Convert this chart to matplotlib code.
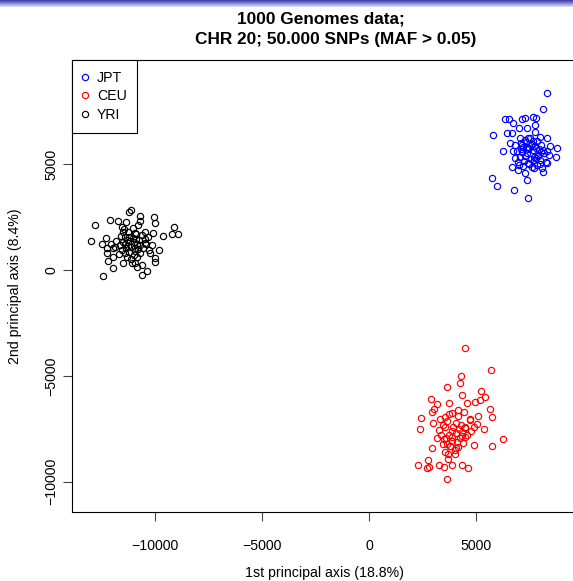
import matplotlib
matplotlib.use("Agg")
import matplotlib.pyplot as plt
import numpy as np
from matplotlib.lines import Line2D

plt.rcParams['font.family'] = ['Liberation Sans', 'DejaVu Sans']

# ---------------- data ----------------
groups = ["JPT", "CEU", "YRI"]
group_colors = ["#0000ff", "#ff0000", "#000000"]

jpt_points = [
    (8332, 8354), (8131, 7585), (6355, 7141), (6556, 7127), (7136, 7127), (7290, 7160),
    (7678, 7236), (7804, 7160), (6743, 6924), (7757, 6844), (5781, 6372), (6435, 6452),
    (6668, 6452), (7024, 6688), (7369, 6688), (7757, 6528), (7056, 6216), (7444, 6216),
    (7991, 6292), (8304, 6216), (6248, 5631), (8799, 5744), (8739, 5319), (6589, 5980),
    (6823, 5900), (5734, 4328), (5968, 3979), (6790, 3776), (7416, 3413), (7397, 4248),
    (8117, 4640), (8304, 5036), (6668, 4876), (6977, 4720), (7290, 4564), (7725, 4800),
    (7100, 6000), (7350, 6050), (7600, 5950), (7850, 6100), (8050, 5900),
    (7200, 5800), (7500, 5750), (7750, 5850), (7950, 5700), (8150, 5650),
    (6900, 5600), (7150, 5550), (7400, 5500), (7650, 5650), (7900, 5450), (8200, 5500),
    (6800, 5300), (7050, 5350), (7300, 5400), (7550, 5250), (7800, 5300), (8000, 5200), (8400, 5450),
    (6950, 5100), (7250, 5150), (7450, 5050), (7700, 5200), (7980, 5000), (8250, 5100),
    (7000, 4950), (7200, 4900), (7480, 5000), (7620, 4850), (7850, 4950), (8100, 4800),
    (6750, 5600), (7100, 5700), (7380, 5800), (7560, 5900), (7820, 5750), (8050, 5550),
    (7300, 6150), (7520, 6250), (7680, 6100), (7900, 5400),
    (7150, 5900), (7420, 5700), (7700, 5350), (8300, 5600), (8450, 5850),
]

ceu_points = [
    (4500, -3696), (5687, -4704), (4299, -4988), (4266, -5348), (3645, -5508), (4346, -5900),
    (5248, -5725), (5407, -5980), (2911, -6103), (3164, -6325), (3753, -6263), (2930, -6688),
    (3051, -6575), (2416, -6986), (2383, -7491), (2977, -7236), (3318, -7047), (3552, -6953),
    (3738, -6797), (4159, -6891), (4594, -6263), (4953, -6216), (5187, -6136), (5654, -6561),
    (5762, -6924), (5374, -7519), (5033, -7269), (4720, -7080), (4486, -7396), (3925, -7396),
    (3537, -7396), (3285, -7552), (3164, -7915), (3865, -7868), (4332, -7835), (4486, -7896),
    (4921, -8260), (6262, -7953), (5762, -8307), (2930, -8416), (3472, -8213), (3785, -8307),
    (4066, -8416), (3537, -8574), (4019, -8685), (3706, -8907), (2771, -8968), (2696, -9360),
    (2790, -9313), (2290, -9204), (3271, -9204), (3519, -9313), (3878, -9204), (4360, -9204),
    (4626, -9331), (3631, -9865),
    (3900, -7600), (4050, -7700), (4200, -7500), (4350, -7650), (4500, -7450), (3750, -7800),
    (3600, -7950), (3900, -8050), (4100, -8100), (4250, -7950), (4400, -8150), (3800, -8300),
    (3650, -8200), (4000, -8500), (4150, -8350), (3500, -8000), (3350, -7800), (4600, -7800),
    (4750, -7600), (4900, -7400), (4700, -7050), (4450, -6700), (4150, -6600), (3900, -6750),
    (3650, -7150), (3450, -7300), (4300, -7300), (4050, -7200), (5100, -6900), (3700, -8700),
]

yri_points = [
    (-13005, 1383), (-12818, 2110), (-12444, -269), (-12103, 2346), (-11715, 2313), (-11201, 2738),
    (-11122, 2832), (-10687, 2563), (-10033, 2487), (-9986, 2204), (-9112, 2015), (-9192, 1685),
    (-8911, 1699), (-9640, 1605), (-9813, 944), (-10000, 552), (-10000, 392), (-10388, -47),
    (-10622, -236), (-11949, 80), (-12183, 425), (-12491, 1213), (-12304, 1496), (-12257, 788),
    (-11949, 1024), (-11481, 316), (-11089, 316), (-10855, 127), (-10622, 236), (-10234, 788),
    (-10313, 1572), (-10468, 1808), (-10935, 1732), (-11402, 1572), (-11559, 2044), (-11481, 1808),
    (-10781, 2124), (-10080, 1732), (-10468, 1260), (-10155, 1180),
    (-11300, 1400), (-11150, 1350), (-11000, 1300), (-10850, 1250), (-10700, 1200), (-11250, 1150),
    (-11100, 1100), (-10950, 1050), (-10800, 1000), (-11400, 1250), (-11050, 1500), (-10900, 1450),
    (-10750, 1400), (-11200, 1550), (-11350, 1050), (-11500, 1300), (-11650, 1200), (-11800, 1350),
    (-11550, 950), (-11700, 750), (-11400, 800), (-11200, 850), (-11000, 700), (-10850, 600),
    (-11100, 500), (-10700, 800), (-10550, 1050), (-10450, 1450), (-10600, 1650), (-10900, 1700),
    (-11250, 1800), (-11600, 1600), (-11850, 1100), (-12050, 1250), (-12250, 1050), (-11950, 600),
    (-11300, 600), (-10950, 350), (-10400, 1250), (-10300, 950), (-11450, 1950), (-11050, 2000),
    (-10700, 2300), (-11350, 2250), (-10950, 900),
]

x_ticks = [-10000, -5000, 0, 5000]
y_ticks = [-10000, -5000, 0, 5000]
title_line1 = "1000 Genomes data;"
title_line2 = "CHR 20; 50.000 SNPs (MAF > 0.05)"
x_label = "1st principal axis (18.8%)"
y_label = "2nd principal axis (8.4%)"

# ---------------- figure ----------------
W, H = 573, 581
fig = plt.figure(figsize=(W / 100, H / 100), dpi=100)

def fx(px):
    return px / W

def fy(py):
    return 1 - py / H

# top gradient bar
bar_ax = fig.add_axes([0, fy(7), 1, 7 / H])
top = np.array([0.22, 0.22, 0.66])
bot = np.array([0.88, 0.88, 0.98])
t = np.linspace(0, 1, 32)[:, None]
grad = (top[None, :] * (1 - t) + bot[None, :] * t)[:, None, :]
bar_ax.imshow(grad, aspect='auto', extent=[0, 1, 0, 1])
bar_ax.axis('off')

# main axes (right border lies beyond the image)
left_px, right_px, top_px, bottom_px = 72, 580, 60, 512
ax = fig.add_axes([fx(left_px), fy(bottom_px), fx(right_px) - fx(left_px), fy(top_px) - fy(bottom_px)])

all_sets = [jpt_points, ceu_points, yri_points]
for pts, col in zip(all_sets, group_colors):
    xs = [p[0] for p in pts]
    ys = [p[1] for p in pts]
    ax.plot(xs, ys, linestyle='none', marker='o', markerfacecolor='none',
            markeredgecolor=col, markersize=4.5, markeredgewidth=0.85)

ax.set_xlim(-13879, 9860)
ax.set_ylim(-11422, 9912)
ax.set_xticks(x_ticks)
ax.set_yticks(y_ticks)
for s in ax.spines.values():
    s.set_linewidth(0.8)
    s.set_color('black')
ax.tick_params(axis='both', length=6.3, width=0.8, labelsize=10.2, color='#444444')
ax.tick_params(axis='x', pad=13.5)
ax.tick_params(axis='y', pad=3.5)
for lab in ax.get_yticklabels():
    lab.set_rotation(90)
    lab.set_va('center')
    lab.set_ha('right')

# legend
handles = [Line2D([], [], linestyle='none', marker='o', markerfacecolor='none',
                  markeredgecolor=c, markersize=4.5, markeredgewidth=0.85) for c in group_colors]
leg = ax.legend(handles, groups, loc='upper left', bbox_to_anchor=(0, 1), borderaxespad=0,
                fancybox=False, framealpha=1, edgecolor='black', fontsize=10.2,
                handlelength=0.4, handletextpad=0.6, labelspacing=0.33, borderpad=0.75)
leg.get_frame().set_linewidth(0.8)

# titles and labels
fig.text(fx(321), fy(23), title_line1, ha='center', va='baseline', fontsize=12.4, fontweight='bold')
fig.text(fx(336), fy(44), title_line2, ha='center', va='baseline', fontsize=12.4, fontweight='bold')
fig.text(fx(324), fy(577), x_label, ha='center', va='baseline', fontsize=10.2)
fig.text(fx(19), fy(286), y_label, ha='center', va='baseline', fontsize=10.2,
         rotation=90, rotation_mode='anchor')

fig.savefig("out.png", dpi=100)
